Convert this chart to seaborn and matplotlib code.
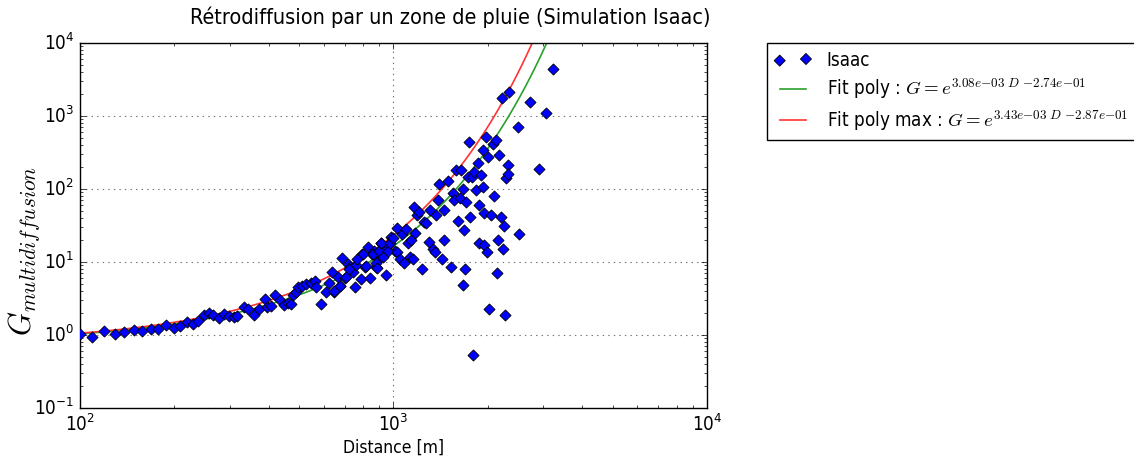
import numpy as np
import matplotlib
matplotlib.use("Agg")
import matplotlib.pyplot as plt
import seaborn as sns

# ── Data ──────────────────────────────────────────────────────────────────────
distance = [
    100, 109, 119, 129, 138, 149, 158, 168, 178, 188, 199, 208, 219, 229, 238,
    248, 258, 266, 278, 287, 298, 309, 317, 334, 344, 358, 372, 388, 396, 408,
    419, 433, 447, 461, 471, 478, 487, 496, 512, 527, 547, 560, 567, 588, 607,
    621, 636, 646, 665, 677, 687, 702, 716, 728, 742, 755, 760, 785, 794, 814,
    828, 839, 853, 866, 881, 896, 910, 925, 944, 960, 984, 1014, 1027,
    644, 673, 703, 721, 764, 798, 818, 859, 881, 887, 902, 914, 925, 959, 977,
    995, 1027, 1052, 1066, 1077, 1097, 1111, 1125, 1138, 1152, 1166, 1175, 1186,
    1210, 1234, 1247, 1271, 1295, 1303, 1334, 1360, 1367, 1383, 1400, 1428, 1445,
    1452, 1488, 1527, 1545, 1564, 1584, 1603, 1631, 1643, 1663, 1675, 1692, 1671,
    1706, 1727, 1739, 1748, 1782, 1791, 1800, 1835, 1856, 1869, 1878, 1902, 1924,
    1934, 1938, 1948, 1972, 1991, 1995, 2021, 2046, 2071, 2086, 2122, 2138, 2158,
    2175, 2202, 2212, 2228, 2258, 2269, 2286, 2313, 2324, 2341, 2487, 2518, 2730,
    2902, 3063, 3215,
]
gain = [
    1.03, 0.94, 1.13, 1.03, 1.11, 1.18, 1.12, 1.22, 1.22, 1.36, 1.25, 1.33, 1.51, 1.43, 1.54,
    1.88, 2.02, 1.88, 1.71, 1.93, 1.83, 1.76, 1.79, 2.39, 2.3, 1.9, 2.3, 3.08, 2.39, 2.5,
    3.53, 2.98, 2.6, 2.74, 2.65, 3.5, 3.92, 4.6, 4.65, 4.95, 5.1, 5.4, 4.6, 2.65, 3.85,
    5.1, 7.2, 3.9, 6.3, 4.65, 11.5, 6.0, 9.4, 8.4, 7.2, 4.6, 9.1, 5.8, 12.9, 8.6,
    16.2, 6.0, 12.8, 14.3, 8.4, 11.0, 18.4, 16.2, 6.6, 17.0, 22.2, 14.0, 29.0,
    4.0, 4.65, 6.3, 7.9, 11.0, 13.0, 8.8, 13.0, 9.6, 8.3, 14.3, 18.4, 11.8, 14.3, 18.0,
    21.0, 13.8, 11.0, 24.2, 9.6, 28.0, 18.0, 11.8, 20.3, 11.0, 56.0, 25.0, 44.0,
    49.0, 7.9, 35.7, 34.0, 18.8, 51.0, 15.0, 13.8, 44.0, 71.0, 117.0, 11.0, 20.3,
    51.0, 129.0, 8.4, 89.0, 71.0, 182.0, 37.0, 75.0, 182.0, 100.0, 27.5, 8.0, 4.9,
    67.0, 148.0, 445.0, 41.0, 148.0, 0.53, 170.0, 97.0, 225.0, 18.0, 60.0, 155.0, 342.0,
    108.0, 47.0, 17.0, 511.0, 13.8, 277.0, 2.3, 44.0, 420.0, 80.0, 470.0, 7.1, 20.0,
    292.0, 41.0, 1745.0, 15.0, 31.0, 1.9, 140.0, 213.0, 163.0, 2150.0, 713.0, 24.0, 1570.0,
    186.0, 1110.0, 4360.0,
]

# fit coefficients shown in the legend: G = exp(a*D + b)
fit_a = [3.08e-03, 3.43e-03]
fit_b = [-2.74e-01, -2.87e-01]
fit_names = ["Fit poly", "Fit poly max"]
fit_colors = ["#2ca02c", "#ff3333"]


def _sci(v):
    # mathtext string without binary-operator spacing around the minus signs
    return ("%.2e" % v).replace("-", "{-}")


# ── Plot ──────────────────────────────────────────────────────────────────────
plt.style.use("classic")
plt.rcParams["mathtext.fontset"] = "cm"
plt.rcParams["font.family"] = ["DejaVu Sans"]
plt.rcParams["font.stretch"] = "condensed"
plt.rcParams["path.simplify"] = False

fig = plt.figure(figsize=(11.34, 4.63), dpi=100, facecolor="white")
ax = fig.add_axes([0.0705, 0.119, 0.553, 0.788])
ax.set_xscale("log")
ax.set_yscale("log")

sns.scatterplot(x=distance, y=gain, ax=ax, marker="D", s=32,
                color="blue", edgecolor="black", linewidth=0.6,
                label="Isaac", zorder=3)

d_fit = np.logspace(2, 4, 800)
for a, b, name, col in zip(fit_a, fit_b, fit_names, fit_colors):
    g_fit = np.exp(a * d_fit + b)
    label = name + r" : $G=e^{%s\ D\ %s}$" % (_sci(a), _sci(b))
    sns.lineplot(x=d_fit, y=g_fit, ax=ax, color=col, lw=1.2,
                 label=label, sort=False, zorder=2)

ax.set_xlim(1e2, 1e4)
ax.set_ylim(1e-1, 1e4)
ax.grid(True, which="major", linestyle=":", color="0.45", lw=0.8)
ax.set_axisbelow(True)
ax.tick_params(labelsize=13.5)

fig.suptitle("Rétrodiffusion par un zone de pluie (Simulation Isaac)",
             fontsize=15.5, x=0.397, y=0.962, va="center")
ax.set_xlabel("Distance [m]", fontsize=12.5, labelpad=3)
ax.set_ylabel("$G_{multidiffusion}$", fontsize=22)
ax.yaxis.set_label_coords(-0.06, 0.43)

ax.legend(loc="upper left", bbox_to_anchor=(0.676, 0.907),
          bbox_transform=fig.transFigure, scatterpoints=2, fontsize=13.5,
          frameon=True, fancybox=False, edgecolor="black", borderaxespad=0,
          handlelength=2.0, labelspacing=0.35)

fig.savefig("out.png", dpi=100, facecolor="white")
